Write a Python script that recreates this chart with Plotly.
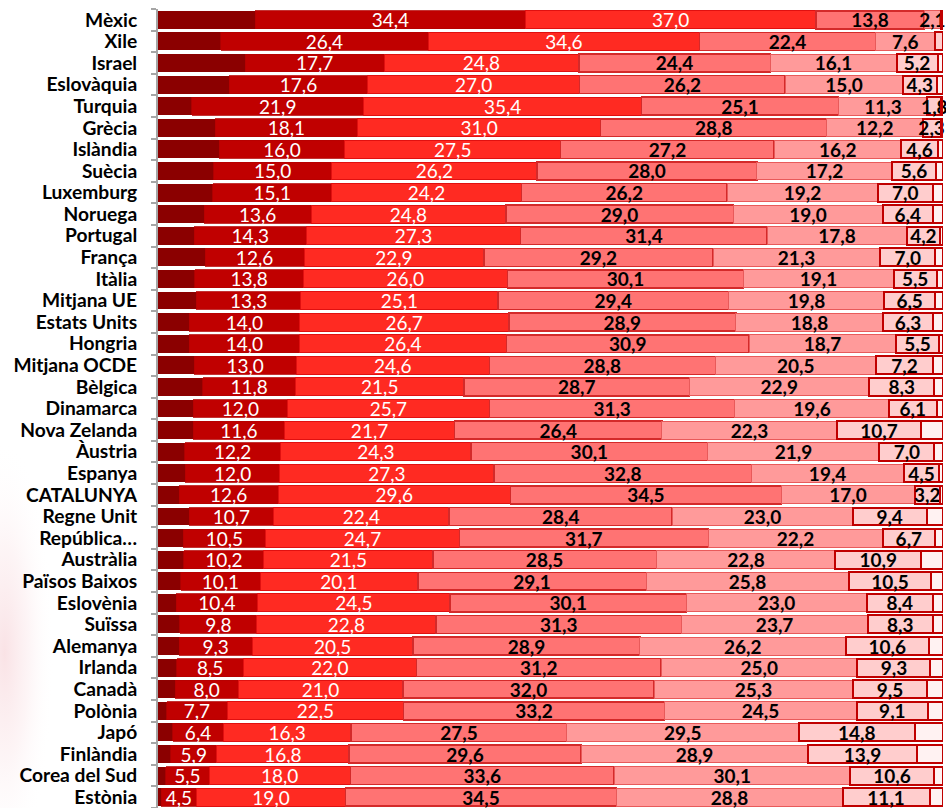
import base64
import plotly.graph_objects as go

countries = ["Mèxic", "Xile", "Israel", "Eslovàquia", "Turquia", "Grècia", "Islàndia", "Suècia",
             "Luxemburg", "Noruega", "Portugal", "França", "Itàlia", "Mitjana UE", "Estats Units",
             "Hongria", "Mitjana OCDE", "Bèlgica", "Dinamarca", "Nova Zelanda", "Àustria", "Espanya",
             "CATALUNYA", "Regne Unit", "República…", "Austràlia", "Països Baixos", "Eslovènia",
             "Suïssa", "Alemanya", "Irlanda", "Canadà", "Polònia", "Japó", "Finlàndia",
             "Corea del Sud", "Estònia"]

serie_1 = [12.4, 8.0, 11.1, 9.1, 4.3, 7.3, 7.8, 7.1, 7.0, 5.9, 4.6, 6.0, 4.7, 4.9, 4.0, 4.0, 4.6,
           5.7, 4.5, 4.5, 3.4, 3.5, 2.7, 4.0, 3.2, 3.3, 2.9, 2.3, 2.8, 2.7, 2.4, 2.2, 1.1, 1.9,
           1.6, 1.0, 0.4]
serie_2 = [34.4, 26.4, 17.7, 17.6, 21.9, 18.1, 16.0, 15.0, 15.1, 13.6, 14.3, 12.6, 13.8, 13.3,
           14.0, 14.0, 13.0, 11.8, 12.0, 11.6, 12.2, 12.0, 12.6, 10.7, 10.5, 10.2, 10.1, 10.4,
           9.8, 9.3, 8.5, 8.0, 7.7, 6.4, 5.9, 5.5, 4.5]
serie_3 = [37.0, 34.6, 24.8, 27.0, 35.4, 31.0, 27.5, 26.2, 24.2, 24.8, 27.3, 22.9, 26.0, 25.1,
           26.7, 26.4, 24.6, 21.5, 25.7, 21.7, 24.3, 27.3, 29.6, 22.4, 24.7, 21.5, 20.1, 24.5,
           22.8, 20.5, 22.0, 21.0, 22.5, 16.3, 16.8, 18.0, 19.0]
serie_4 = [13.8, 22.4, 24.4, 26.2, 25.1, 28.8, 27.2, 28.0, 26.2, 29.0, 31.4, 29.2, 30.1, 29.4,
           28.9, 30.9, 28.8, 28.7, 31.3, 26.4, 30.1, 32.8, 34.5, 28.4, 31.7, 28.5, 29.1, 30.1,
           31.3, 28.9, 31.2, 32.0, 33.2, 27.5, 29.6, 33.6, 34.5]
serie_5 = [2.1, 7.6, 16.1, 15.0, 11.3, 12.2, 16.2, 17.2, 19.2, 19.0, 17.8, 21.3, 19.1, 19.8,
           18.8, 18.7, 20.5, 22.9, 19.6, 22.3, 21.9, 19.4, 17.0, 23.0, 22.2, 22.8, 25.8, 23.0,
           23.7, 26.2, 25.0, 25.3, 24.5, 29.5, 28.9, 30.1, 28.8]
serie_6 = [0.3, 1.0, 5.2, 4.3, 1.8, 2.3, 4.6, 5.6, 7.0, 6.4, 4.2, 7.0, 5.5, 6.5, 6.3, 5.5, 7.2,
           8.3, 6.1, 10.7, 7.0, 4.5, 3.2, 9.4, 6.7, 10.9, 10.5, 8.4, 8.3, 10.6, 9.3, 9.5, 9.1,
           14.8, 13.9, 10.6, 11.1]
serie_7 = [0.0, 0.0, 0.7, 0.8, 0.2, 0.3, 0.7, 0.9, 1.3, 1.3, 0.4, 1.0, 0.8, 1.0, 1.3, 0.5, 1.3,
           1.1, 0.8, 2.8, 1.1, 0.5, 0.4, 2.1, 1.0, 2.8, 1.5, 1.3, 1.3, 1.8, 1.6, 2.0, 1.9, 3.6,
           3.3, 1.2, 1.7]

# labels not printed in the original (tiny segments)
hidden_labels = {("Mèxic", 6), ("Xile", 6)}

series = [serie_1, serie_2, serie_3, serie_4, serie_5, serie_6, serie_7]
fills = ["#8B0000", "#C00000", "#FF2A22", "#FF7373", "#FF9A9A", "#FFCDCD", "#FFF2F2"]
lines = ["#8B0000", "#B40000", "#E01010", "#D42A2A", "#E85A5A", "#C00000", "#C00000"]
line_w = [0, 0.8, 1, 1.5, 1, 2, 2]
labelled = [False, True, True, True, True, True, False]
text_col = [None, "white", "white", "black", "black", "black", None]

fig = go.Figure()
for i, vals in enumerate(series):
    idx = i + 1
    if labelled[i]:
        txt = ["" if (c, idx) in hidden_labels else f"{v:.1f}".replace(".", ",")
               for c, v in zip(countries, vals)]
    else:
        txt = None
    fig.add_trace(go.Bar(
        y=countries, x=vals, orientation="h",
        marker=dict(color=fills[i], line=dict(color=lines[i], width=line_w[i])),
        text=txt,
        textposition="inside" if labelled[i] else "none",
        insidetextanchor="middle",
        textangle=0,
        constraintext="none",
        cliponaxis=False,
        textfont=dict(family="Lato", size=19,
                      color=text_col[i] or "black",
                      weight="bold" if text_col[i] == "black" else "normal"),
        hoverinfo="skip",
        showlegend=False,
    ))

W, H = 946, 808
L, R, T, B = 158, 3, 9, 0
pw, ph = W - L - R, H - T - B

# faint pink glow in the left margin (background decoration of the original)
svg = ('<svg xmlns="http://www.w3.org/2000/svg" width="100" height="400" viewBox="0 0 100 400">'
       '<defs><radialGradient id="g" cx="0.05" cy="0.6" r="0.55">'
       '<stop offset="0" stop-color="#E06070" stop-opacity="0.18"/>'
       '<stop offset="0.5" stop-color="#E88090" stop-opacity="0.08"/>'
       '<stop offset="1" stop-color="#FFFFFF" stop-opacity="0"/>'
       '</radialGradient></defs>'
       '<rect width="100" height="400" fill="url(#g)"/></svg>')
svg_uri = "data:image/svg+xml;base64," + base64.b64encode(svg.encode()).decode()

fig.add_layout_image(dict(
    source=svg_uri, xref="paper", yref="paper",
    x=-L / pw, y=(H - B - 420) / ph,
    sizex=90 / pw, sizey=388 / ph, xanchor="left", yanchor="top",
    sizing="stretch", layer="below", opacity=1,
))

fig.update_layout(
    barmode="stack",
    bargap=0.17,
    width=W, height=H,
    margin=dict(l=L, r=R, t=T, b=B),
    paper_bgcolor="white", plot_bgcolor="rgba(0,0,0,0)",
    xaxis=dict(range=[0, 100], visible=False, fixedrange=True),
    yaxis=dict(
        autorange="reversed",
        tickmode="array", tickvals=countries, ticktext=countries,
        showline=True, linecolor="#A6A6A6", linewidth=2,
        ticks="outside", ticklen=5, tickcolor="#A6A6A6", tickwidth=2,
        tickson="boundaries",
        ticklabelstandoff=15,
        tickfont=dict(family="Lato", size=19.2, color="black", weight="bold"),
        showgrid=False,
        automargin=False,
        fixedrange=True,
    ),
)

fig.write_html(
    "out.html",
    config={"displayModeBar": False, "staticPlot": True},
    post_script="document.body.style.margin='0';document.body.style.overflow='hidden';",
)
